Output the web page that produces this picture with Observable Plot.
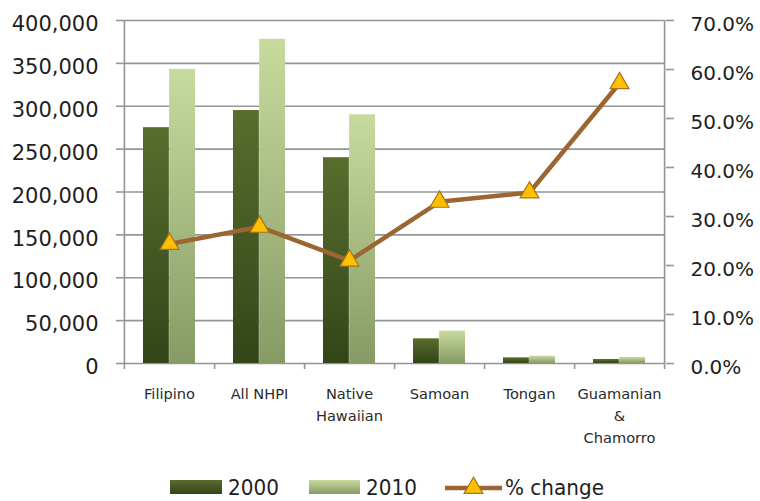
<!DOCTYPE html>
<html><head><meta charset="utf-8">
<script src="https://cdn.jsdelivr.net/npm/d3@7"></script>
<script src="https://cdn.jsdelivr.net/npm/@observablehq/plot@0.6"></script>
<style>
body{margin:0;background:#fff;font-family:"DejaVu Sans",sans-serif;overflow:hidden;}
#chart svg{display:block;}
</style></head><body>
<svg width="0" height="0" style="position:absolute">
<defs>
<linearGradient id="g2000" x1="0" y1="0" x2="0" y2="1"><stop offset="0" stop-color="#596d2d"/><stop offset="1" stop-color="#334518"/></linearGradient>
<linearGradient id="g2010" x1="0" y1="0" x2="0" y2="1"><stop offset="0" stop-color="#c8db9e"/><stop offset="1" stop-color="#869a65"/></linearGradient>
</defs></svg>
<div id="chart"></div>
<script>
const categories = ["Filipino", "All NHPI", "Native\nHawaiian", "Samoan", "Tongan", "Guamanian\n&\nChamorro"];
const pop2000 = [275000, 295000, 240000, 28800, 6600, 4700];
const pop2010 = [343000, 378000, 290000, 37700, 8500, 7000];
const pctChange = [24.4, 27.9, 21.0, 33.0, 34.9, 57.2];
const leftTicks = [0, 50000, 100000, 150000, 200000, 250000, 300000, 350000, 400000];
const pctTicks = [0, 10, 20, 30, 40, 50, 60, 70];
const seriesNames = ["2000", "2010", "% change"];

const W = 760, H = 470, mL = 124, mR = 95, mT = 20, mB = 107;
const gray = "#959595";
const yMax = leftTicks[leftTicks.length - 1];
const pMax = pctTicks[pctTicks.length - 1];
const k = yMax / pMax; // right-axis (percent) to left-axis units
const step = (W - mL - mR) / categories.length;
const pIn = 0.42;
const half = step * (1 - pIn) / 2;

const data = categories.map((c, i) => ({cat: c, v2000: pop2000[i], v2010: pop2010[i], pct: pctChange[i]}));

const chart = Plot.plot({
  width: W, height: H,
  marginLeft: mL, marginRight: mR, marginTop: mT, marginBottom: mB,
  style: {fontFamily: "DejaVu Sans", background: "#fff", overflow: "visible"},
  x: {domain: categories, paddingInner: pIn, paddingOuter: pIn / 2, axis: null},
  y: {domain: [0, yMax], axis: null},
  marks: [
    Plot.ruleY(leftTicks, {stroke: gray, strokeWidth: 1.6}),
    Plot.barY(data, {x: "cat", y: "v2000", insetRight: half, fill: "url(#g2000)"}),
    Plot.barY(data, {x: "cat", y: "v2010", insetLeft: half, fill: "url(#g2010)"}),
    Plot.ruleX([categories[0]], {dx: -step / 2, stroke: gray, strokeWidth: 1.6}),
    Plot.ruleX([categories[categories.length - 1]], {dx: step / 2, stroke: gray, strokeWidth: 1.6}),
    // left axis
    Plot.axisY(leftTicks, {anchor: "left", tickSize: 8, tickFormat: () => "", stroke: gray, strokeWidth: 1.6, label: null}),
    Plot.axisY(leftTicks, {anchor: "left", tickSize: 0, tickPadding: 26, dy: 4, tickFormat: d3.format(","), fontSize: 21, fill: "#1e1e1e", label: null}),
    // right axis
    Plot.axisY(pctTicks.map(p => p * k), {anchor: "right", tickSize: 8, tickFormat: () => "", stroke: gray, strokeWidth: 1.6, label: null}),
    Plot.axisY(pctTicks.map(p => p * k), {anchor: "right", tickSize: 0, tickPadding: 25, dy: 4, tickFormat: d => (d / k).toFixed(1) + "%", fontSize: 20, fill: "#1e1e1e", label: null}),
    // x axis
    Plot.axisX({tickSize: 6, dx: step / 2, tickFormat: () => "", stroke: gray, strokeWidth: 1.6, label: null}),
    Plot.axisX([categories[0]], {tickSize: 6, dx: -step / 2, tickFormat: () => "", stroke: gray, strokeWidth: 1.6, label: null}),
    Plot.axisX({tickSize: 0, tickPadding: 20, fontSize: 14.6, lineHeight: 1.5, fill: "#2a2a2a", label: null}),
    // % change line
    Plot.line(data, {x: "cat", y: d => d.pct * k, stroke: "#9c6632", strokeWidth: 4.5}),
    Plot.dot(data, {x: "cat", y: d => d.pct * k, symbol: "triangle", r: 7, fill: "#ffc000", stroke: "#a8741e", strokeWidth: 1.2})
  ]
});
document.getElementById("chart").appendChild(chart);

// legend
const leg = d3.select("#chart").append("svg").attr("width", W).attr("height", 31).style("display", "block");
const legItems = [
  {name: seriesNames[0], kind: "bar", fill: "url(#g2000)", x: 170, w: 52},
  {name: seriesNames[1], kind: "bar", fill: "url(#g2010)", x: 309, w: 51},
  {name: seriesNames[2], kind: "line", x: 445, w: 57}
];
const legTop = 9; // legend svg starts at y=470
legItems.forEach(it => {
  if (it.kind === "bar") {
    leg.append("rect").attr("x", it.x).attr("y", legTop + 1).attr("width", it.w).attr("height", 14).attr("fill", it.fill);
  } else {
    leg.append("line").attr("x1", it.x).attr("x2", it.x + it.w).attr("y1", legTop + 9).attr("y2", legTop + 9)
      .attr("stroke", "#9c6632").attr("stroke-width", 4.5);
    leg.append("path").attr("d", d3.symbol(d3.symbolTriangle, Math.PI * 49)())
      .attr("transform", `translate(${it.x + it.w / 2},${legTop + 9})`)
      .attr("fill", "#ffc000").attr("stroke", "#a8741e").attr("stroke-width", 1.2);
  }
  leg.append("text").text(it.name)
    .attr("transform", `translate(${it.x + it.w + (it.kind === "bar" ? 6 : 3)},${legTop}) scale(1,1.1)`)
    .attr("y", 14.6).attr("font-size", 20).attr("fill", "#1e1e1e")
    .attr("font-family", "DejaVu Sans");
});
</script>
</body></html>
